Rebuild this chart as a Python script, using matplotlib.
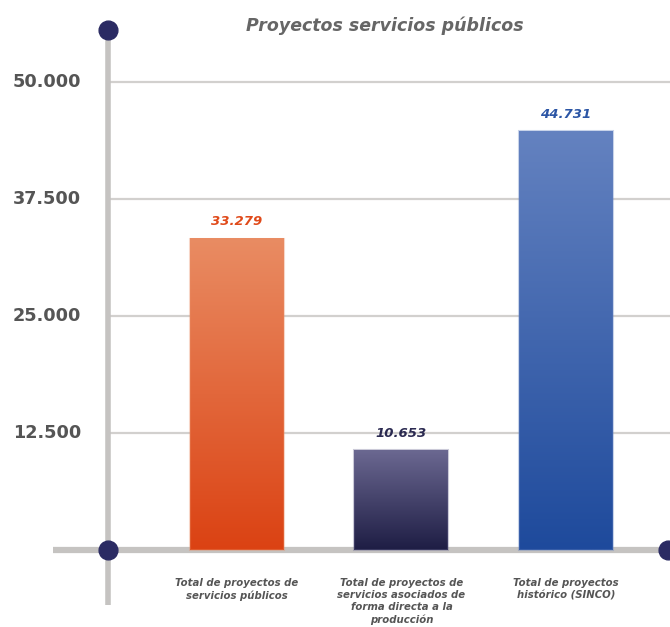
import numpy as np
import matplotlib.pyplot as plt
from matplotlib.colors import to_rgb
from matplotlib.patches import Rectangle

titulo = "Proyectos servicios públicos"
categorias = ["Total de proyectos de\nservicios públicos",
              "Total de proyectos de\nservicios asociados de\nforma directa a la\nproducción",
              "Total de proyectos\nhistórico (SINCO)"]
valores = [33279, 10653, 44731]
etiquetas = ["33.279", "10.653", "44.731"]
ticks = [12500, 25000, 37500, 50000]
tick_labels = ["12.500", "25.000", "37.500", "50.000"]

# gradient colours (top, bottom) and the value label colour per bar
grad_top = ["#e98c63", "#6b6891", "#6482c0"]
grad_bot = ["#db4213", "#1e1d44", "#1e4a9c"]
col_valor = ["#e04a1a", "#2a2950", "#2b55a5"]

gris_eje = "#c5c3c1"
gris_grid = "#d2d0ce"
azul_punto = "#2b2b63"
gris_txt = "#555555"

W, H = 670, 627
fig = plt.figure(figsize=(W / 100, H / 100), dpi=100)
ax = fig.add_axes([0, 0, 1, 1])
ax.axis("off")

# pixel -> data helpers (x: bar slots, y: values)
X0, STEP = 237, 164.5
Y0, YPX = 550, 50000 / 468
px = lambda x: (x - X0) / STEP
py = lambda y: (Y0 - y) * YPX

ax.set_xlim(px(0), px(W))
ax.set_ylim(py(H), py(0))

# gridlines
for t in ticks:
    ax.plot([px(110), px(W)], [t, t], color=gris_grid, lw=1.6, zorder=1, solid_capstyle="butt")

# axes lines
ax.plot([px(108), px(108)], [py(30), py(605)], color=gris_eje, lw=4, zorder=2, solid_capstyle="butt")
ax.plot([px(53), px(W)], [0, 0], color=gris_eje, lw=4.5, zorder=2, solid_capstyle="butt")
ax.plot([px(108), px(108), px(668)], [py(30), 0, 0], "o", color=azul_punto, ms=13.5, zorder=5, clip_on=False)

# y tick labels
for t, lab in zip(ticks, tick_labels):
    ax.text(px(81), t, lab, ha="right", va="center", fontsize=12.7, fontweight="bold", color=gris_txt)

# bars with vertical gradient
ancho = 94 / STEP
for i, v in enumerate(valores):
    c1, c2 = np.array(to_rgb(grad_top[i])), np.array(to_rgb(grad_bot[i]))
    f = np.linspace(0, 1, 256)[:, None, None]
    img = c1 * (1 - f) + c2 * f
    ax.imshow(img, extent=[i - ancho / 2, i + ancho / 2, 0, v], aspect="auto",
              interpolation="bilinear", zorder=3)
    ax.add_patch(Rectangle((i - ancho / 2, 0), ancho, v, fill=False,
                           ec=grad_top[i], lw=1.5, alpha=0.35, zorder=3))
    ax.annotate(etiquetas[i], (i, v), xytext=(0, 12), textcoords="offset points",
                ha="center", va="center", fontsize=9.5, fontweight="bold",
                fontstyle="italic", color=col_valor[i])
    ax.text(i, py(578), categorias[i], ha="center", va="top", fontsize=7.3,
            fontweight="bold", fontstyle="italic", color=gris_txt, linespacing=1.25)

ax.set_xlim(px(0), px(W))
ax.set_ylim(py(H), py(0))

ax.text(px(385), py(26), titulo, ha="center", va="center", fontsize=12.5,
        fontweight="bold", fontstyle="italic", color="#666666")

fig.savefig("out.png", dpi=100, facecolor="white")
